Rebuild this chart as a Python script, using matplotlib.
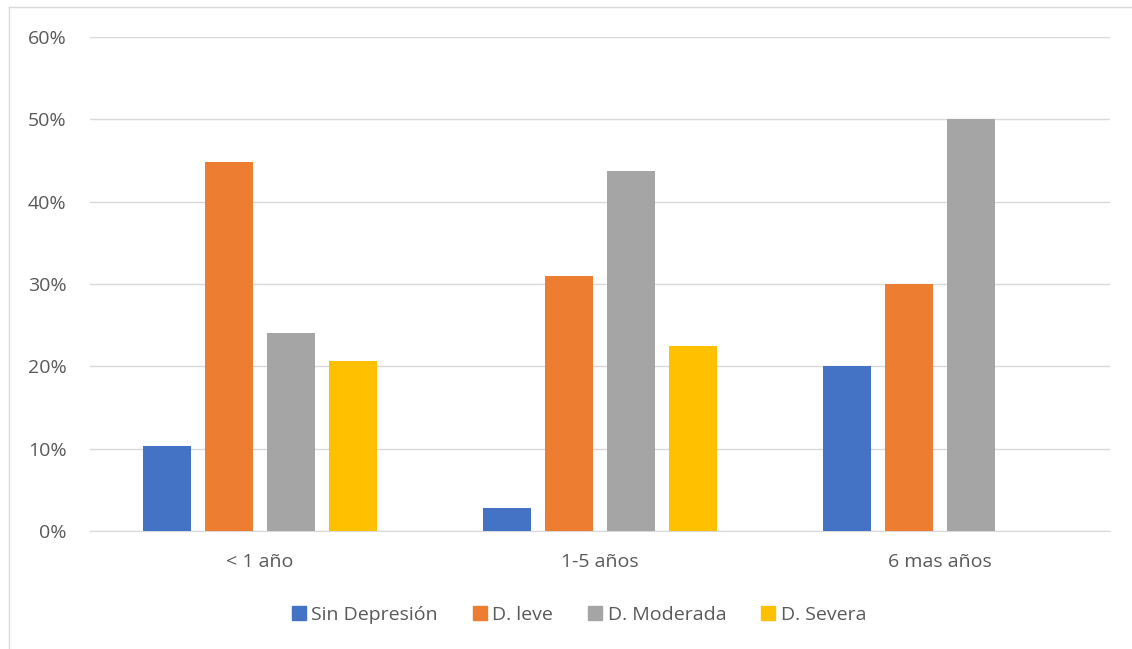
import matplotlib.pyplot as plt
import numpy as np
from matplotlib.lines import Line2D

categories = ["< 1 año", "1-5 años", "6 mas años"]
series = ["Sin Depresión", "D. leve", "D. Moderada", "D. Severa"]
sin_depresion = [10.3, 2.8, 20.0]
d_leve = [44.8, 31.0, 30.0]
d_moderada = [24.1, 43.7, 50.0]
d_severa = [20.7, 22.5, 0.0]
colors = ["#4472C4", "#ED7D31", "#A5A5A5", "#FFC000"]

plt.rcParams['font.family'] = ['Open Sans', 'DejaVu Sans']
txt = "#595959"

fig = plt.figure(figsize=(11.32, 6.49), dpi=100)
ax = fig.add_axes([90 / 1132, 1 - 531 / 649, 1020 / 1132, 494 / 649])

x = np.arange(len(categories))
step = 62 / 340
width = 48 / 340
values = [sin_depresion, d_leve, d_moderada, d_severa]
for i, (vals, c) in enumerate(zip(values, colors)):
    ax.bar(x + (i - 1.5) * step, vals, width, color=c, label=series[i], zorder=3)

ax.set_xlim(-0.5, 2.5)
ax.set_ylim(0, 60)
ax.set_yticks(range(0, 61, 10))
ax.set_yticklabels([f"{v}%" for v in range(0, 61, 10)])
ax.set_xticks(x)
ax.set_xticklabels(categories)
ax.grid(axis='y', color="#D9D9D9", linewidth=1, zorder=0)
for s in ['top', 'right', 'left']:
    ax.spines[s].set_visible(False)
ax.spines['bottom'].set_color("#D9D9D9")
ax.tick_params(axis='both', length=0, labelsize=14, colors=txt)
ax.tick_params(axis='y', pad=17)
ax.tick_params(axis='x', pad=16)

handles = [Line2D([], [], marker='s', linestyle='none', markersize=10,
                  markerfacecolor=c, markeredgecolor=c) for c in colors]
fig.legend(handles, series, loc='center', bbox_to_anchor=(578 / 1132, 1 - 615 / 649),
           ncol=4, frameon=False, fontsize=14, labelcolor=txt,
           handlelength=0.9, handletextpad=0.2, columnspacing=1.7)

# chart border
fig.add_artist(Line2D([9 / 1132, 9 / 1132], [0, 1 - 7 / 649], transform=fig.transFigure,
                      color="#D9D9D9", linewidth=1))
fig.add_artist(Line2D([9 / 1132, 1], [1 - 7 / 649, 1 - 7 / 649], transform=fig.transFigure,
                      color="#D9D9D9", linewidth=1))

fig.savefig("out.png", dpi=100)
